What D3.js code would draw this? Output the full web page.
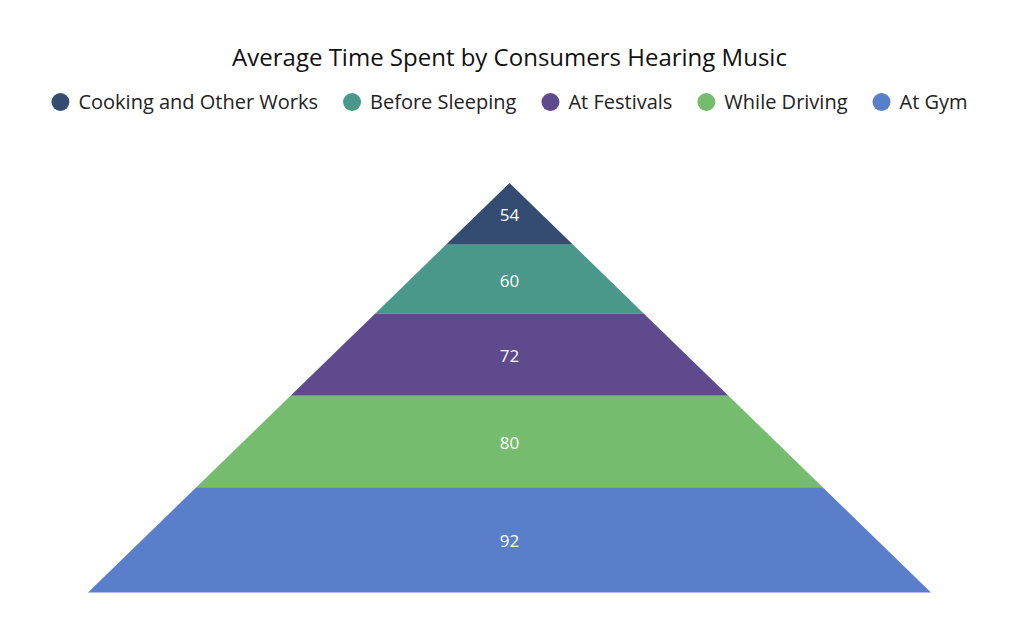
<!DOCTYPE html>
<html><head><meta charset="utf-8">
<script src="https://cdn.jsdelivr.net/npm/d3@7"></script>
<style>body{margin:0;background:#fff;}svg{display:block;font-family:"Segoe UI","Open Sans",sans-serif;}</style>
</head><body><svg id="c" width="1027" height="631"></svg>
<script>
const categories = ["Cooking and Other Works","Before Sleeping","At Festivals","While Driving","At Gym"];
const values = [54,60,72,80,92];
const colors = ["#344C72","#4A988A","#5E4A8C","#75BC6E","#5A7FCA"];
const title = "Average Time Spent by Consumers Hearing Music";

(function(){
const svg = d3.select("#c");
const cx = 509.5, yTop = 183, yBottom = 592.5, halfBase = 421.5;
const total = d3.sum(values);
const y = d3.scaleLinear().domain([0, total]).range([yTop, yBottom]);
const hw = d3.scaleLinear().domain([0, total]).range([0, halfBase]);

svg.append("text").attr("x", cx).attr("y", 66).attr("text-anchor","middle")
  .attr("font-size", 24).attr("fill","#111").text(title);

// legend
const lg = svg.append("g");
let xpos = 0;
categories.forEach((c,i)=>{
  const g = lg.append("g").attr("transform",`translate(${xpos},0)`);
  g.append("circle").attr("cx",9).attr("cy",0).attr("r",9).attr("fill",colors[i]);
  const t = g.append("text").attr("x",27).attr("y",7).attr("font-size",20).attr("fill","#222").text(c);
  xpos += 27 + t.node().getComputedTextLength() + 25;
});
const lw = xpos - 25;
lg.attr("transform",`translate(${cx - lw/2},102)`);

// pyramid
let cum = 0;
const layers = values.map((v,i)=>{ const a = cum; cum += v; return {v, i, a, b: cum}; });
const line = d3.line();
svg.append("g").selectAll("path").data(layers).join("path")
  .attr("d", d => line([[cx - hw(d.a), y(d.a)],[cx + hw(d.a), y(d.a)],[cx + hw(d.b), y(d.b)],[cx - hw(d.b), y(d.b)]]) + "Z")
  .attr("fill", d => colors[d.i]);
svg.append("g").selectAll("text").data(layers).join("text")
  .attr("x", cx).attr("y", d => (y(d.a)+y(d.b))/2 + 7.5)
  .attr("text-anchor","middle").attr("font-size",17).attr("fill","#fff")
  .text(d => d.v);
})();
</script></body></html>
